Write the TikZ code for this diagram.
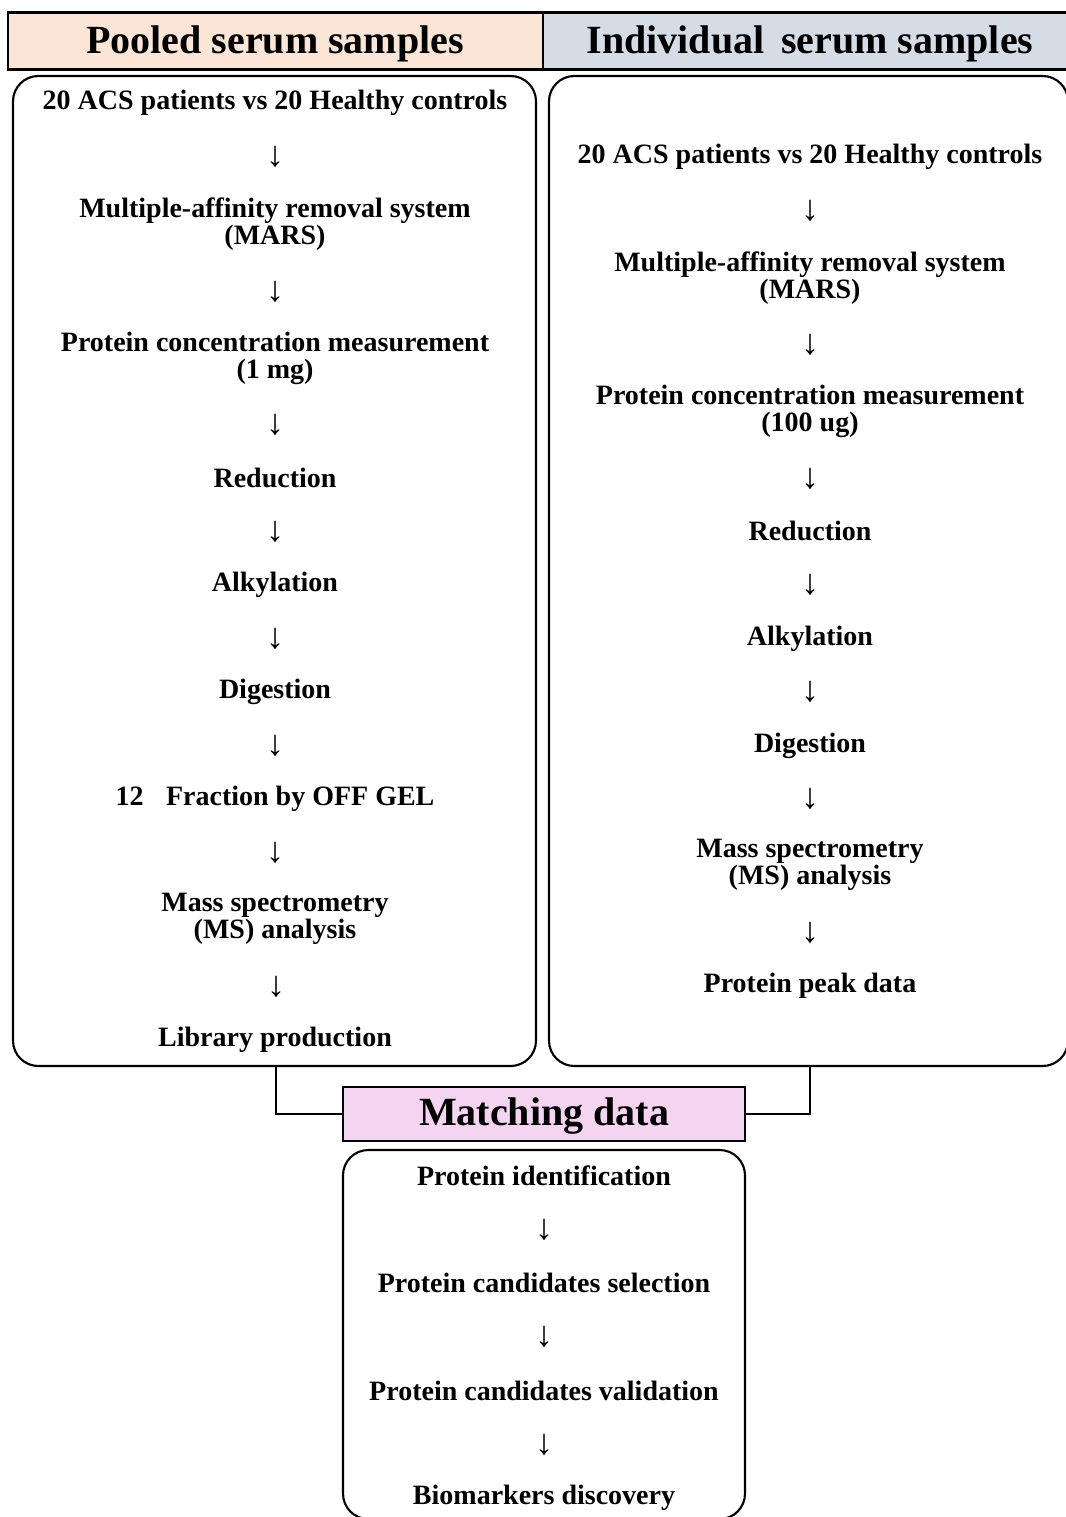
\documentclass[tikz,border=0pt]{standalone}
\usepackage{fontspec}
\setmainfont{Liberation Serif}
\definecolor{peach}{HTML}{FBE5D6}
\definecolor{greyblue}{HTML}{D6DCE5}
\definecolor{pinkbox}{HTML}{F4D4F0}
\begin{document}
\begin{tikzpicture}[x=0.75pt,y=-0.75pt,
  txt/.style={font=\fontsize{21}{20.25}\selectfont\bfseries, align=center, inner sep=0pt},
  arr/.style={font=\fontsize{27}{27}\selectfont, inner sep=0pt},
  big/.style={font=\fontsize{30}{32}\selectfont\bfseries, inner sep=0pt},
  hdr/.style={draw, line width=1.8pt, inner sep=0pt},
  panel/.style={draw, line width=1.6pt, rounded corners=19pt, inner sep=0pt},
  link/.style={draw, line width=1pt}]
\useasboundingbox (0,0) rectangle (1065,1517);
% headers
\node[hdr, fill=peach, minimum width=401.25pt, minimum height=42.75pt] (hl) at (275.5,41) {};
\node[hdr, fill=greyblue, minimum width=405pt, minimum height=42.75pt] (hr) at (813,41) {};
\node[big] (hlt) at (275,44) {Pooled serum samples};
\node[big] (hrt) at (810,44) {Individual\, serum samples};
% panels
\node[panel, minimum width=392.25pt, minimum height=742.5pt] (lbox) at (274.5,571) {};
\node[panel, minimum width=389.25pt, minimum height=742.5pt] (rbox) at (808.5,571) {};
\node[draw, line width=1.6pt, fill=pinkbox, inner sep=0pt, minimum width=301.5pt, minimum height=40.5pt] (match) at (544,1114) {};
\node[big] (matcht) at (544,1116) {Matching data};
\node[panel, minimum width=301.5pt, minimum height=276.75pt] (bbox) at (544,1334.5) {};
% left column
\node[txt] (l1) at (275,103) {20 ACS patients vs 20 Healthy controls};
\node[arr] (la1) at (275,157) {↓};
\node[txt] (l2) at (275,224) {Multiple-affinity removal system\\(MARS)};
\node[arr] (la2) at (275,292) {↓};
\node[txt] (l3) at (275,358) {Protein concentration measurement\\(1 mg)};
\node[arr] (la3) at (275,425) {↓};
\node[txt] (l4) at (275,478) {Reduction};
\node[arr] (la4) at (275,532) {↓};
\node[txt] (l5) at (275,585) {Alkylation};
\node[arr] (la5) at (275,639) {↓};
\node[txt] (l6) at (275,692) {Digestion};
\node[arr] (la6) at (275,746) {↓};
\node[txt] (l7) at (275,799) {12\hspace{0.8em}Fraction by OFF GEL};
\node[arr] (la7) at (275,853) {↓};
\node[txt] (l8) at (275,919) {Mass spectrometry\\(MS) analysis};
\node[arr] (la8) at (276,987) {↓};
\node[txt] (l9) at (275,1040) {Library production};
% right column
\node[txt] (r1) at (810,157) {20 ACS patients vs 20 Healthy controls};
\node[arr] (ra1) at (810,211) {↓};
\node[txt] (r2) at (810,278) {Multiple-affinity removal system\\(MARS)};
\node[arr] (ra2) at (810,345) {↓};
\node[txt] (r3) at (810,411) {Protein concentration measurement\\(100 ug)};
\node[arr] (ra3) at (810,479) {↓};
\node[txt] (r4) at (810,531) {Reduction};
\node[arr] (ra4) at (810,585) {↓};
\node[txt] (r5) at (810,639) {Alkylation};
\node[arr] (ra5) at (810,692) {↓};
\node[txt] (r6) at (810,746) {Digestion};
\node[arr] (ra6) at (810,799) {↓};
\node[txt] (r7) at (810,865) {Mass spectrometry\\(MS) analysis};
\node[arr] (ra7) at (810,933) {↓};
\node[txt] (r8) at (810,986) {Protein peak data};
% connectors
\draw[link] (lbox.south -| la8) |- (match.west);
\draw[link] (rbox.south -| ra7) |- (match.east);
% bottom column
\node[txt] (b1) at (544,1176) {Protein identification};
\node[arr] (ba1) at (544,1230) {↓};
\node[txt] (b2) at (544,1283) {Protein candidates selection};
\node[arr] (ba2) at (544,1337) {↓};
\node[txt] (b3) at (544,1391) {Protein candidates validation};
\node[arr] (ba3) at (544,1445) {↓};
\node[txt] (b4) at (544,1498) {Biomarkers discovery};
\end{tikzpicture}
\end{document}
